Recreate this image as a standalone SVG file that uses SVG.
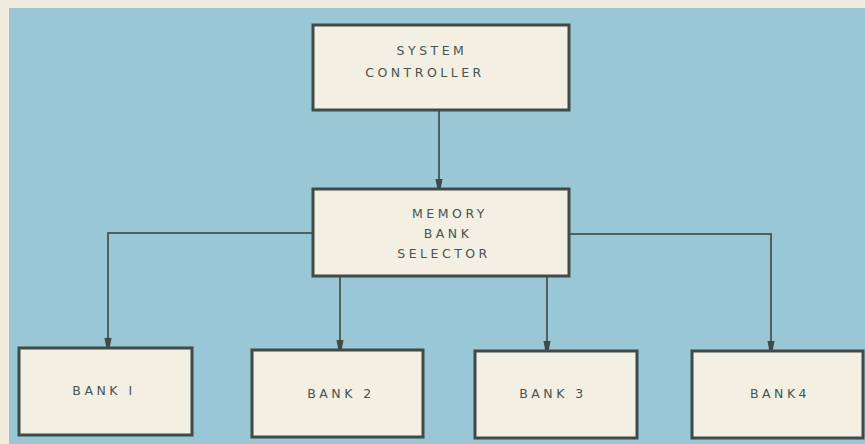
<svg xmlns="http://www.w3.org/2000/svg" width="865" height="444" viewBox="0 0 865 444">
<defs>
<style>
.box{fill:#f3efe3;stroke:#3f4b49;stroke-width:3}
.lbl{font-family:"DejaVu Sans","Liberation Sans",sans-serif;font-size:12.5px;fill:#46544f;text-anchor:middle;letter-spacing:3.5px}
.ln{fill:none;stroke:#4f5f5e;stroke-width:2}
</style>
<marker id="ah" viewBox="0 0 10 10" refX="9" refY="5" markerWidth="4.5" markerHeight="4.5" orient="auto" markerUnits="strokeWidth">
<path d="M0,1 L10,3 L10,7 L0,9 z" fill="#3f4b49"/>
</marker>
</defs>
<rect x="0" y="0" width="865" height="444" fill="#9ac7d6"/>
<rect x="0" y="0" width="865" height="8" fill="#f2ebe0"/>
<rect x="0" y="0" width="9" height="444" fill="#f2ebe0"/>
<g id="connectors">
<path class="ln" d="M439,110 V187" marker-end="url(#ah)"/>
<path class="ln" d="M313,233 H108 V346" marker-end="url(#ah)"/>
<path class="ln" d="M340,276 V348" marker-end="url(#ah)"/>
<path class="ln" d="M547,276 V349" marker-end="url(#ah)"/>
<path class="ln" d="M569,234 H771 V349" marker-end="url(#ah)"/>
</g>
<g id="system-controller">
<rect class="box" x="313" y="25" width="256" height="85"/>
<text class="lbl" x="432" y="55">SYSTEM</text>
<text class="lbl" x="425" y="77">CONTROLLER</text>
</g>
<g id="memory-bank-selector">
<rect class="box" x="313" y="189" width="256" height="87"/>
<text class="lbl" x="450" y="218">MEMORY</text>
<text class="lbl" x="448" y="238">BANK</text>
<text class="lbl" x="444" y="258">SELECTOR</text>
</g>
<g id="bank1">
<rect class="box" x="19" y="348" width="173" height="87"/>
<text class="lbl" x="104" y="395">BANK I</text>
</g>
<g id="bank2">
<rect class="box" x="252" y="350" width="171" height="87"/>
<text class="lbl" x="341" y="398">BANK 2</text>
</g>
<g id="bank3">
<rect class="box" x="475" y="351" width="162" height="87"/>
<text class="lbl" x="553" y="398">BANK 3</text>
</g>
<g id="bank4">
<rect class="box" x="692" y="351" width="171" height="87"/>
<text class="lbl" x="780" y="398">BANK4</text>
</g>
</svg>
